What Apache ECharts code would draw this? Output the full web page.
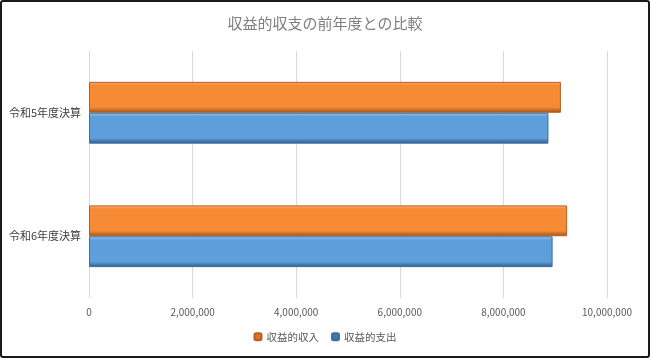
<!DOCTYPE html>
<html><head><meta charset="utf-8">
<script src="https://cdn.jsdelivr.net/npm/echarts@6/dist/echarts.min.js"></script>
<style>
html,body{margin:0;padding:0;background:#fff;}
#wrap{width:650px;height:358px;box-sizing:border-box;border:2px solid #1a1a1a;border-radius:3px;background:#fff;}
#c{width:646px;height:354px;}
</style></head>
<body><div id="wrap"><div id="c"></div></div>
<script>
const categories = ['令和5年度決算', '令和6年度決算'];
const incomeValues = [9110000, 9230000];
const expenseValues = [8870000, 8950000];
const seriesNames = ['収益的収入', '収益的支出'];
const titleText = '収益的収支の前年度との比較';

function grad(light, mid, dark){
  return new echarts.graphic.LinearGradient(0,0,0,1,[
    {offset:0, color:light},{offset:0.12, color:mid},{offset:0.82, color:mid},{offset:1, color:dark}
  ]);
}
const font = '"Noto Sans CJK JP", "Noto Sans", sans-serif';
const chart = echarts.init(document.getElementById('c'));
chart.setOption({
  animation:false,
  title:{text:titleText,left:'center',top:9,textStyle:{color:'#7f7f7f',fontSize:15,fontWeight:'normal',fontFamily:font}},
  grid:{left:87,right:41,top:49,bottom:58,containLabel:false},
  xAxis:{type:'value',min:0,max:10000000,interval:2000000,
    axisLine:{show:false},axisTick:{show:false},
    splitLine:{lineStyle:{color:'#d9d9d9'}},
    axisLabel:{color:'#595959',fontSize:10,fontFamily:font,margin:9,
      formatter:v=>v.toLocaleString('en-US')}},
  yAxis:{type:'category',data:categories,inverse:true,
    axisLine:{show:false},axisTick:{show:false},
    axisLabel:{color:'#404040',fontSize:11,fontFamily:font,margin:8}},
  legend:{bottom:9,left:'center',itemWidth:7,itemHeight:7,itemGap:12,
    textStyle:{color:'#595959',fontSize:10.5,fontFamily:font},
    data:[{name:seriesNames[0],itemStyle:{color:'#E07020'}},{name:seriesNames[1],itemStyle:{color:'#3E76B0'}}]},
  series:[
    {name:seriesNames[0],type:'bar',data:incomeValues,barGap:'0%',barCategoryGap:'50%',
      itemStyle:{color:grad('#FDB07A','#F68A35','#9E5218'),borderColor:'#B45F22',borderWidth:1}},
    {name:seriesNames[1],type:'bar',data:expenseValues,
      itemStyle:{color:grad('#9CCBF5','#5E9FDB','#2C5A88'),borderColor:'#3D6E9C',borderWidth:1}}
  ]
});
</script></body></html>
